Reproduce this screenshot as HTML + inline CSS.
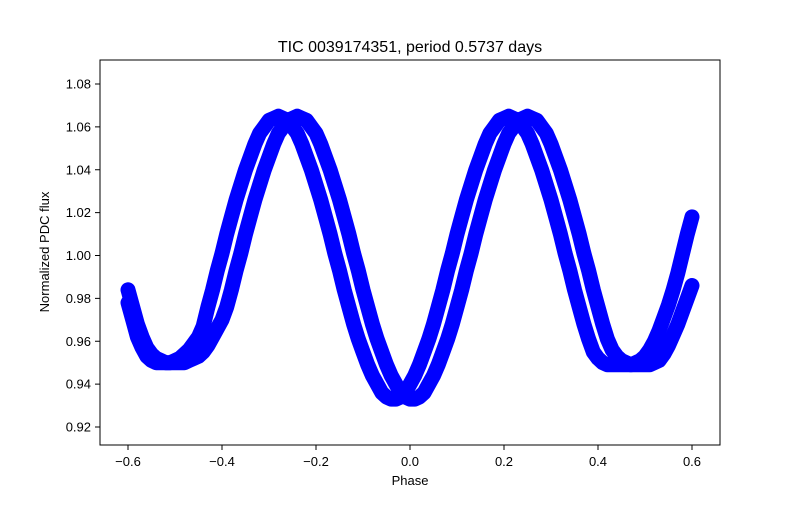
<!DOCTYPE html>
<html><head><meta charset="utf-8"><style>
body{margin:0;background:#fff;}
svg text{font-family:"Liberation Sans","DejaVu Sans",sans-serif;fill:#000;}
</style></head><body>
<svg id="chart" width="800" height="500" viewBox="0 0 800 500" xmlns="http://www.w3.org/2000/svg">
<rect width="800" height="500" fill="#fff"/>
<text x="410" y="52" font-size="16" text-anchor="middle">TIC 0039174351, period 0.5737 days</text>
<g id="marks"></g>
<rect x="100" y="60" width="620" height="385" fill="none" stroke="#000" stroke-width="1"/>
<g id="xaxis"></g>
<g id="yaxis"></g>
<text x="410" y="485" font-size="13" text-anchor="middle">Phase</text>
<text x="0" y="0" font-size="13" text-anchor="middle" transform="translate(49,252) rotate(-90)">Normalized PDC flux</text>
</svg>
<script>
const xTicks=[-0.6,-0.4,-0.2,0.0,0.2,0.4,0.6];
const xTickLabels=["\u22120.6","\u22120.4","\u22120.2","0.0","0.2","0.4","0.6"];
const yTicks=[0.92,0.94,0.96,0.98,1.00,1.02,1.04,1.06,1.08];
const yTickLabels=["0.92","0.94","0.96","0.98","1.00","1.02","1.04","1.06","1.08"];
const phaseStart=-0.60;
const phaseStep=0.01;
const fluxTrack1=[.978,.970,.962,.957,.953,.951,.950,.950,.950,.950,.951,.952,.954,.956,.959,.962,.967,.976,.984,.993,1.001,1.010,1.018,1.026,1.033,1.040,1.046,1.052,1.057,1.060,1.063,1.064,1.065,
1.064,1.063,1.060,1.057,1.052,1.046,1.040,1.033,1.026,1.018,1.010,1.001,.993,.984,.976,.968,.961,.955,.949,.944,.940,.936,.934,
.933,.933,
.934,.936,.940,.944,.949,.955,.961,.968,.976,.984,.993,1.001,1.010,1.018,1.026,1.033,1.040,1.046,1.052,1.057,1.060,1.063,1.064,
1.065,
1.064,1.063,1.060,1.057,1.052,1.046,1.040,1.033,1.026,1.018,1.010,1.001,.993,.984,.976,.968,.961,.955,.952,.950,.949,.949,.949,
.949,.949,
.949,.950,.951,.953,.956,.960,.965,.971,.977,.984,.992,1.001,1.010,1.018];
const fluxTrack2=[.984,.976,.968,.962,.957,.954,.952,.951,.950,.950,.950,.950,.950,.951,.952,.953,.955,.958,.962,.966,.970,.976,.984,.993,1.001,1.010,1.018,1.026,1.033,1.040,1.046,1.052,1.057,1.060,1.063,1.064,1.065,
1.064,1.063,1.060,1.057,1.052,1.046,1.040,1.033,1.026,1.018,1.010,1.001,.993,.984,.976,.968,.961,.955,.949,.944,.940,.936,.934,
.933,.933,
.934,.936,.940,.944,.949,.955,.961,.968,.976,.984,.993,1.001,1.010,1.018,1.026,1.033,1.040,1.046,1.052,1.057,1.060,1.063,1.064,
1.065,
1.064,1.063,1.060,1.057,1.052,1.046,1.040,1.033,1.026,1.018,1.010,1.001,.993,.984,.976,.968,.961,.956,.953,.951,.950,.949,.949,
.949,.949,.949,.950,.951,.954,.958,.963,.968,.974,.980,.986];

const NS='http://www.w3.org/2000/svg';
function xs(v){return 410+v*470;}
function ys(v){return 427-(v-0.92)*2143.75;}
const xg=document.getElementById('xaxis');
xTicks.forEach((t,i)=>{
  const l=document.createElementNS(NS,'line');
  l.setAttribute('x1',xs(t));l.setAttribute('x2',xs(t));l.setAttribute('y1',445);l.setAttribute('y2',450);l.setAttribute('stroke','#000');
  
  
  xg.appendChild(l);
  const tx=document.createElementNS(NS,'text');
  tx.setAttribute('x',xs(t));tx.setAttribute('y',466);tx.setAttribute('font-size','13');tx.setAttribute('text-anchor','middle');
  tx.textContent=xTickLabels[i];
  
  
  xg.appendChild(tx);
});
const yg=document.getElementById('yaxis');
yTicks.forEach((t,i)=>{
  const l=document.createElementNS(NS,'line');
  l.setAttribute('x1',95);l.setAttribute('x2',100);l.setAttribute('y1',ys(t));l.setAttribute('y2',ys(t));l.setAttribute('stroke','#000');
  
  
  yg.appendChild(l);
  const tx=document.createElementNS(NS,'text');
  tx.setAttribute('x',91);tx.setAttribute('y',ys(t)+4.5);tx.setAttribute('font-size','13');tx.setAttribute('text-anchor','end');
  tx.textContent=yTickLabels[i];
  
  
  yg.appendChild(tx);
});
const mg=document.getElementById('marks');
[fluxTrack1,fluxTrack2].forEach((arr,ti)=>{
  const pts=arr.map((f,i)=>xs(phaseStart+i*phaseStep).toFixed(1)+','+ys(f).toFixed(1)).join(' ');
  const pl=document.createElementNS(NS,'polyline');
  pl.setAttribute('points',pts);pl.setAttribute('fill','none');pl.setAttribute('stroke','#0000ff');
  pl.setAttribute('stroke-width','15');pl.setAttribute('stroke-linejoin','round');pl.setAttribute('stroke-linecap','round');
  
  
  mg.appendChild(pl);
  arr.forEach((f,i)=>{
    const c=document.createElementNS(NS,'circle');
    c.setAttribute('cx',xs(phaseStart+i*phaseStep));c.setAttribute('cy',ys(f));c.setAttribute('r',4);c.setAttribute('fill','#0000ff');
    
    
    mg.appendChild(c);
  });
});
</script>
</body></html>
